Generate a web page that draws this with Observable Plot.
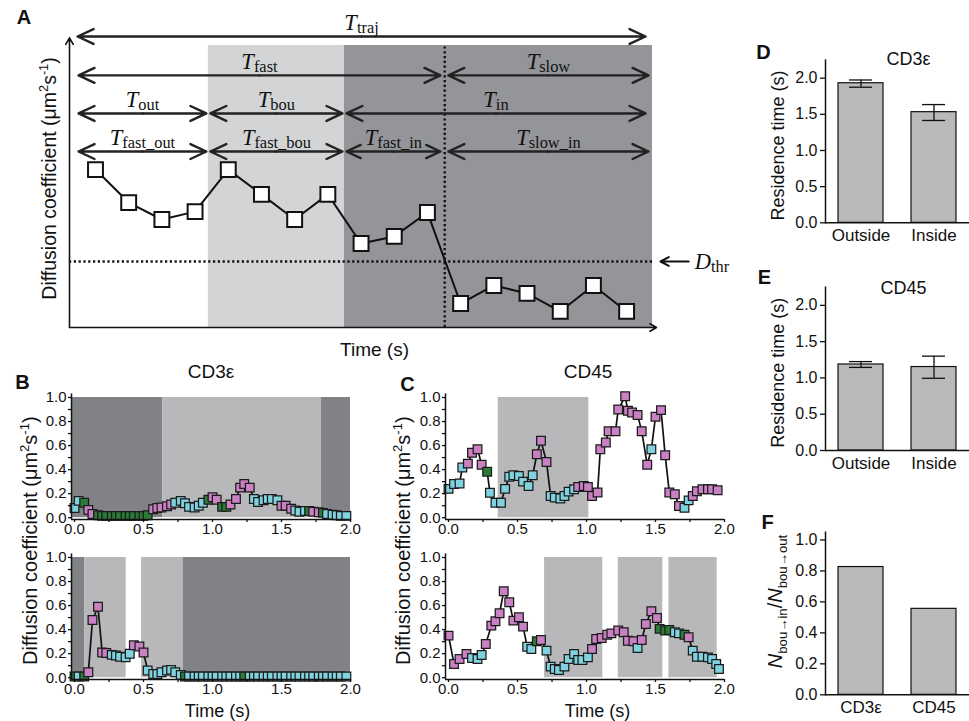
<!DOCTYPE html>
<html><head><meta charset="utf-8">
<script src="https://cdn.jsdelivr.net/npm/d3@7"></script>
<script src="https://cdn.jsdelivr.net/npm/@observablehq/plot@0.6"></script>
<style>
html,body{margin:0;padding:0;background:#fff;}
#fig{position:relative;width:969px;height:721px;overflow:hidden;background:#fff;}
#fig svg{position:absolute;left:0;top:0;}
</style></head><body><div id="fig"></div>
<script>
// ---------------- DATA ----------------
// Panel A (schematic)
const aFrames = [1,2,3,4,5,6,7,8,9,10,11,12,13,14,15,16,17];
const aValues = [5.60,4.43,3.83,4.11,5.60,4.72,3.83,4.72,2.98,3.23,4.08,0.85,1.49,1.21,0.57,1.49,0.57];
const aThreshold = 2.34;
const aSwitch = 11.52;
const aZoneNames = ["bound","inside"];
const aZoneStart = [4.40, 8.50];
const aZoneEnd = [8.50, 17.78];
const spanNames = ["traj","fast","slow","out","bou","in","fast_out","fast_bou","fast_in","slow_in"];
const spanRows = [10.32,8.94,8.94,7.59,7.59,7.59,6.24,6.24,6.24,6.24];
const spanStarts = [0.46,0.49,11.63,0.49,4.46,8.56,0.49,4.46,8.56,11.63];
const spanEnds = [17.57,11.39,17.66,4.34,8.44,17.57,4.34,8.44,11.39,17.66];

// Panel B (CD3e traces)
const bTopTime = [0.00,0.03,0.07,0.10,0.13,0.17,0.20,0.23,0.27,0.30,0.33,0.37,0.40,0.43,0.47,0.50,0.53,0.57,0.60,0.63,0.67,0.70,0.73,0.77,0.80,0.83,0.87,0.90,0.93,0.97,1.00,1.03,1.07,1.10,1.13,1.17,1.20,1.23,1.27,1.30,1.33,1.37,1.40,1.43,1.47,1.50,1.53,1.57,1.60,1.63,1.67,1.70,1.73,1.77,1.80,1.83,1.87,1.90,1.93,1.97];
const bTopD = [0.08,0.14,0.125,0.065,0.03,0.02,0.015,0.015,0.015,0.015,0.015,0.015,0.015,0.015,0.015,0.015,0.02,0.07,0.08,0.085,0.095,0.11,0.125,0.14,0.12,0.09,0.085,0.10,0.125,0.15,0.17,0.15,0.09,0.09,0.11,0.155,0.25,0.28,0.25,0.155,0.13,0.145,0.155,0.155,0.145,0.10,0.10,0.075,0.06,0.05,0.055,0.055,0.05,0.045,0.04,0.03,0.025,0.02,0.015,0.015];
const bTopState = "ccgmmggggggggggggmmmmmcccccccgmmggmmmmmccccccmmmcccgmmgccccc".split("");
const bTopZoneStart = [-0.022, 0.64, 1.79];
const bTopZoneEnd = [0.64, 1.79, 2.0];
const bTopZoneState = ["in","bou","in"];

const bBotTime = bTopTime;
const bBotD = [0.01,0.01,0.01,0.045,0.48,0.59,0.21,0.205,0.19,0.185,0.175,0.17,0.20,0.27,0.26,0.21,0.06,0.03,0.03,0.045,0.06,0.065,0.045,0.022,0.01,0.01,0.01,0.01,0.01,0.01,0.01,0.01,0.01,0.01,0.01,0.01,0.01,0.01,0.01,0.01,0.01,0.01,0.01,0.01,0.01,0.01,0.01,0.01,0.01,0.01,0.01,0.01,0.01,0.01,0.01,0.01,0.01,0.01,0.01,0.01];
const bBotState = "gcgmmmmmcccccmmmccccccccgccccccccccccgcccccccccccccccccccccc".split("");
const bBotZoneStart = [-0.022, 0.075, 0.486, 0.787];
const bBotZoneEnd = [0.075, 0.374, 0.787, 2.0];
const bBotZoneState = ["in","bou","bou","in"];

// Panel C (CD45 traces)
const cTopTime = [0.00,0.04,0.08,0.10,0.14,0.17,0.21,0.24,0.28,0.30,0.34,0.38,0.41,0.44,0.47,0.51,0.54,0.58,0.61,0.64,0.67,0.71,0.74,0.77,0.81,0.84,0.87,0.91,0.94,0.98,1.01,1.04,1.08,1.10,1.14,1.16,1.21,1.23,1.28,1.30,1.33,1.37,1.40,1.44,1.47,1.50,1.54,1.57,1.60,1.64,1.67,1.71,1.74,1.77,1.80,1.84,1.88,1.91,1.95];
const cTopD = [0.24,0.28,0.285,0.417,0.45,0.54,0.57,0.44,0.383,0.208,0.125,0.125,0.24,0.34,0.353,0.347,0.30,0.264,0.353,0.528,0.64,0.464,0.18,0.167,0.16,0.18,0.217,0.236,0.255,0.264,0.255,0.18,0.21,0.57,0.625,0.72,0.72,0.90,1.01,0.89,0.875,0.855,0.72,0.44,0.57,0.84,0.895,0.52,0.21,0.195,0.097,0.083,0.144,0.18,0.22,0.236,0.236,0.236,0.228];
const cTopState = "ccccmmmmgccccccccccmmmccccccmmmmmmmmmmmmmmmmcmmmmmmccmmmmmmm".split("");
const cTopZoneStart = [0.36];
const cTopZoneEnd = [1.017];
const cTopZoneState = ["bou"];

const cBotTime = [0.00,0.04,0.08,0.13,0.17,0.21,0.24,0.27,0.31,0.34,0.37,0.40,0.44,0.47,0.51,0.54,0.57,0.60,0.64,0.67,0.71,0.74,0.77,0.80,0.84,0.87,0.91,0.94,0.97,1.01,1.04,1.07,1.11,1.15,1.18,1.23,1.27,1.30,1.34,1.37,1.40,1.43,1.47,1.51,1.53,1.57,1.60,1.64,1.67,1.71,1.74,1.77,1.80,1.84,1.88,1.91,1.94,1.96];
const cBotD = [0.35,0.114,0.156,0.197,0.164,0.156,0.189,0.28,0.433,0.469,0.536,0.72,0.628,0.475,0.503,0.425,0.258,0.239,0.303,0.314,0.225,0.092,0.072,0.064,0.092,0.156,0.197,0.147,0.147,0.169,0.239,0.322,0.33,0.358,0.369,0.392,0.378,0.308,0.303,0.247,0.314,0.447,0.553,0.497,0.406,0.392,0.397,0.378,0.369,0.358,0.336,0.225,0.175,0.175,0.169,0.156,0.114,0.072];
const cBotState = "mmmmcccmmmmmmmmmccgmccccccccccmmmmmmmmmcmmmmgggccgmccccccc".split("");
const cBotZoneStart = [0.696, 1.23, 1.597];
const cBotZoneEnd = [1.118, 1.553, 1.947];
const cBotZoneState = ["bou","bou","bou"];

// Panels D, E, F
const locCats = ["Outside","Inside"];
const dMean = [1.93, 1.53];
const dLow = [1.875, 1.415];
const dHigh = [1.975, 1.635];
const eMean = [1.185, 1.15];
const eLow = [1.145, 0.995];
const eHigh = [1.225, 1.30];
const fCats = ["CD3ε","CD45"];
const fRatio = [0.825, 0.555];

const traceYMajor = [0,0.2,0.4,0.6,0.8,1.0];
const traceYMinor = [0.1,0.3,0.5,0.7,0.9];
const traceXMajor = [0,0.5,1.0,1.5,2.0];
const traceXMinor = [0.25,0.75,1.25,1.75];
const resTicks = [0,0.5,1.0,1.5,2.0];
const ratioTicks = [0,0.2,0.4,0.6,0.8,1.0];

// ---------------- STYLE ----------------
const W = 969, H = 721;
const SANS = '"Liberation Sans", Arial, Helvetica, sans-serif';
const SERIF = '"Liberation Serif", "Times New Roman", serif';
const INK = "#111";
const stateColor = {m: "#c981c3", c: "#80d2de", g: "#2d7a38"};
const traceShade = {in: "#808285", bou: "#b8b8ba"};
const aShade = {bound: "#d3d4d6", inside: "#939598"};
const barFill = "#b9b9bb";
const fig = document.getElementById("fig");
const baseStyle = {background: "transparent", overflow: "visible", fontFamily: SANS, fontSize: "15px", color: INK};
const f1 = d3.format(".1f");

function frame(left, top, right, bottom) {
  return {width: W, height: H, marginLeft: left, marginTop: top, marginRight: W - right, marginBottom: H - bottom, style: baseStyle};
}
function txt(s, o) {
  return Plot.text([s], {text: d => d, textAnchor: "middle", lineAnchor: "middle", fill: INK, fontFamily: SANS, ...o});
}
function richify(svg, o = {}) {
  const {subScale = 0.72, subShift = 0.18, supScale = 0.65, supShift = -0.42} = o;
  d3.select(svg).selectAll("text").each(function () {
    const s = this.textContent;
    if (!/\*|_\{|\^\{/.test(s)) return;
    const fs = parseFloat(getComputedStyle(this).fontSize) || 16;
    const el = d3.select(this).text(null);
    const re = /\*([^*]+)\*|([_^])\{([^}]*)\}|([^*]+?)(?=\*|[_^]\{|$)/g;
    let m, shift = 0;
    while ((m = re.exec(s)) !== null) {
      let t, size = fs, target = 0, italic = false;
      if (m[1] !== undefined) { t = m[1]; italic = true; }
      else if (m[2] !== undefined) {
        t = m[3]; const sub = m[2] === "_";
        size = fs * (sub ? subScale : supScale);
        target = fs * (sub ? subShift : supShift);
      } else t = m[4];
      const ts = el.append("tspan").text(t).attr("font-size", size);
      if (italic) ts.attr("font-style", "italic");
      if (target !== shift) { ts.attr("dy", target - shift); shift = target; }
    }
  });
}
function add(svg) { fig.appendChild(svg); return svg; }

// ---------------- PANEL A ----------------
{
  const xDom = [0.217, 17.78];
  const pts = aFrames.map((f, i) => ({f, D: aValues[i]}));
  const zones = aZoneNames.map((z, i) => ({z, start: aZoneStart[i], end: aZoneEnd[i]}));
  const spans = spanNames.map((n, i) => ({n, row: spanRows[i], start: spanStarts[i], end: spanEnds[i], mid: (spanStarts[i] + spanEnds[i]) / 2}));
  const halves = spans.flatMap(d => [{row: d.row, from: d.mid, to: d.start}, {row: d.row, from: d.mid, to: d.end}]);
  const axes = [{x1: xDom[0], y1: 0, x2: xDom[0], y2: 10.27}, {x1: xDom[0], y1: 0, x2: 17.9, y2: 0}];
  const svg = Plot.plot({
    ...frame(69, 45, 652, 327),
    x: {domain: xDom, axis: null},
    y: {domain: [0, 10], axis: null},
    color: {type: "identity"},
    marks: [
      Plot.rect(zones, {x1: "start", x2: "end", y1: 0, y2: 10, fill: d => aShade[d.z]}),
      Plot.ruleY([aThreshold], {x1: xDom[0], x2: xDom[1], stroke: INK, strokeWidth: 2.4, strokeDasharray: "2.2,2.6"}),
      Plot.ruleX([aSwitch], {y1: 0, y2: 10, stroke: INK, strokeWidth: 2.4, strokeDasharray: "2.2,2.6"}),
      Plot.arrow(halves, {x1: "from", y1: "row", x2: "to", y2: "row", stroke: "#222", strokeWidth: 2.4, headLength: 11, headAngle: 50}),
      Plot.text(spans, {x: "mid", y: "row", text: d => `*T*_{${d.n}}`, dy: -13.5, fontFamily: SERIF, fontSize: 22.5, fill: INK}),
      Plot.line(pts, {x: "f", y: "D", stroke: INK, strokeWidth: 2}),
      Plot.dot(pts, {x: "f", y: "D", symbol: "square", r: 8.4, fill: "white", stroke: INK, strokeWidth: 2}),
      Plot.arrow(axes, {x1: "x1", y1: "y1", x2: "x2", y2: "y2", stroke: INK, strokeWidth: 1.6, headLength: 7, headAngle: 60}),
      Plot.arrow([aThreshold], {x1: 18.87, x2: 18.02, y1: d => d, y2: d => d, stroke: INK, strokeWidth: 2, headLength: 10, headAngle: 55}),
      Plot.text([aThreshold], {x: 19.05, y: d => d, text: () => "*D*_{thr}", textAnchor: "start", fontFamily: SERIF, fontSize: 22.5, fill: INK}),
      txt("Time (s)", {frameAnchor: "bottom", dx: 13.5, dy: 22, fontSize: 19}),
      txt("Diffusion coefficient (μm^{2}s^{-1})", {frameAnchor: "left", rotate: -90, dx: -20, dy: -8, fontSize: 19.5}),
      txt("A", {frameAnchor: "top-left", dx: -45.5, dy: -28.4, fontSize: 20, fontWeight: "bold"})
    ]
  });
  add(svg);
  richify(svg, {subScale: 0.73, subShift: 0.14});
}

// ---------------- PANELS B, C ----------------
const xDomT = [-0.022, 2.0];
const yDomT = [-0.015, 1.03];
function tracePlot(o) {
  const pts = o.time.map((t, i) => ({t, D: o.D[i], s: o.state[i]}));
  const zones = o.zs.map((s, i) => ({s, e: o.ze[i], st: o.zst[i]}));
  const marks = [
    Plot.rect(zones, {x1: "s", x2: "e", y1: 0, y2: 1, fill: d => traceShade[d.st]}),
    Plot.line(pts, {x: "t", y: "D", stroke: INK, strokeWidth: 1.7}),
    Plot.dot(pts, {x: "t", y: "D", symbol: "square", r: 4.9, fill: d => stateColor[d.s], stroke: "#1b1b1b", strokeWidth: 1.25}),
    Plot.ruleX([xDomT[0]], {y1: yDomT[0], y2: yDomT[1], stroke: INK, strokeWidth: 1.5}),
    Plot.ruleY([yDomT[0]], {x1: xDomT[0], x2: xDomT[1], stroke: INK, strokeWidth: 1.5}),
    Plot.axisY(traceYMajor, {tickSize: 3, tickPadding: 2, tickFormat: f1, fontSize: 15, label: null, strokeWidth: 1.3}),
    Plot.axisY(traceYMinor, {tickSize: 3, tickFormat: () => "", label: null, strokeWidth: 1.3}),
    Plot.axisX(traceXMajor, {tickSize: 3, tickPadding: 1, tickFormat: f1, fontSize: 15, label: null, strokeWidth: 1.3}),
    Plot.axisX(traceXMinor, {tickSize: 3, tickFormat: () => "", label: null, strokeWidth: 1.3})
  ];
  if (o.title) marks.push(txt(o.title, {frameAnchor: "top", dx: o.titleDx, dy: -21.5, fontSize: 19}));
  if (o.letter) marks.push(txt(o.letter, {frameAnchor: "top-left", dx: o.letterDx, dy: o.letterDy, fontSize: 20, fontWeight: "bold"}));
  if (o.ylabel) marks.push(txt("Diffusion coefficient (μm^{2}s^{-1})", {frameAnchor: "left", rotate: -90, dx: o.ylabelDx, dy: 84, fontSize: 20}));
  if (o.xlabel) marks.push(txt("Time (s)", {frameAnchor: "bottom", dx: o.xlabelDx, dy: 32.2, fontSize: 18}));
  const svg = Plot.plot({
    ...frame(o.left, o.top, o.right, o.bottom),
    x: {domain: xDomT, axis: null, label: null},
    y: {domain: yDomT, axis: null, label: null},
    color: {type: "identity"},
    marks
  });
  add(svg);
  richify(svg);
  return svg;
}
tracePlot({left: 71, right: 350, top: 393.4, bottom: 519, time: bTopTime, D: bTopD, state: bTopState, zs: bTopZoneStart, ze: bTopZoneEnd, zst: bTopZoneState,
  title: "CD3ε", titleDx: 0, letter: "B", letterDx: -49, letterDy: -11.8, ylabel: true, ylabelDx: -41});
tracePlot({left: 71, right: 350, top: 553.4, bottom: 679, time: bBotTime, D: bBotD, state: bBotState, zs: bBotZoneStart, ze: bBotZoneEnd, zst: bBotZoneState,
  xlabel: true, xlabelDx: 6.5});
tracePlot({left: 445, right: 724, top: 393.4, bottom: 519, time: cTopTime, D: cTopD, state: cTopState, zs: cTopZoneStart, ze: cTopZoneEnd, zst: cTopZoneState,
  title: "CD45", titleDx: 3, letter: "C", letterDx: -38, letterDy: -9.8, ylabel: true, ylabelDx: -42});
tracePlot({left: 445, right: 724, top: 553.4, bottom: 679, time: cBotTime, D: cBotD, state: cBotState, zs: cBotZoneStart, ze: cBotZoneEnd, zst: cBotZoneState,
  xlabel: true, xlabelDx: 12.5});

// ---------------- PANELS D, E, F ----------------
function barPlot(o) {
  const rows = o.cats.map((c, i) => ({c, v: o.values[i], lo: o.lo ? o.lo[i] : null, hi: o.hi ? o.hi[i] : null}));
  const marks = [
    Plot.barY(rows, {x: "c", y: "v", fill: barFill, stroke: INK, strokeWidth: 1.2}),
    Plot.frame({anchor: "left", stroke: INK, strokeWidth: 1.5}),
    Plot.ruleY([0], {stroke: INK, strokeWidth: 1.5}),
    Plot.axisY(o.ticks, {tickSize: 5, tickPadding: 3, tickFormat: f1, fontSize: 16, label: null, strokeWidth: 1.3}),
    Plot.axisX(o.cats, {tickSize: 0, tickPadding: 6, fontSize: 17, label: null}),
    txt(o.letter, {frameAnchor: "top-left", dx: o.letterDx, dy: o.letterDy, fontSize: 20, fontWeight: "bold"}),
    txt(o.ylabel, {frameAnchor: "left", rotate: -90, dx: o.ylabelDx, dy: o.ylabelDy, fontSize: o.ylabelSize || 18})
  ];
  if (o.lo) {
    marks.push(Plot.ruleX(rows, {x: "c", y1: "lo", y2: "hi", stroke: INK, strokeWidth: 1.3}));
    marks.push(Plot.tickY(rows, {x: "c", y: "lo", insetLeft: 11, insetRight: 11, stroke: INK, strokeWidth: 1.3}));
    marks.push(Plot.tickY(rows, {x: "c", y: "hi", insetLeft: 11, insetRight: 11, stroke: INK, strokeWidth: 1.3}));
  }
  if (o.title) marks.push(txt(o.title, {frameAnchor: "top", dx: o.titleDx, dy: o.titleDy, fontSize: 18}));
  const svg = Plot.plot({
    ...frame(825, o.top, 969, o.bottom),
    x: {type: "band", domain: o.cats, paddingInner: 0.39, paddingOuter: 0.17, axis: null, label: null},
    y: {domain: o.yDom, axis: null, label: null},
    marks
  });
  add(svg);
  richify(svg, {subScale: 0.66, subShift: 0.25});
  return svg;
}
barPlot({top: 59.6, bottom: 222.3, yDom: [0, 2.25], ticks: resTicks, cats: locCats, values: dMean, lo: dLow, hi: dHigh,
  title: "CD3ε", titleDx: 11, titleDy: -0.4, letter: "D", letterDx: -62, letterDy: -8, ylabel: "Residence time (s)", ylabelDx: -47, ylabelDy: 4});
barPlot({top: 286.7, bottom: 450, yDom: [0, 2.25], ticks: resTicks, cats: locCats, values: eMean, lo: eLow, hi: eHigh,
  title: "CD45", titleDx: 6, titleDy: 0.8, letter: "E", letterDx: -61, letterDy: -10, ylabel: "Residence time (s)", ylabelDx: -47, ylabelDy: 4});
barPlot({top: 531.7, bottom: 694.3, yDom: [0, 1.05], ticks: ratioTicks, cats: fCats, values: fRatio,
  letter: "F", letterDx: -58, letterDy: -10, ylabel: "*N*_{bou→in}/*N*_{bou→out}", ylabelDx: -50, ylabelDy: -12, ylabelSize: 20});
</script></body></html>
